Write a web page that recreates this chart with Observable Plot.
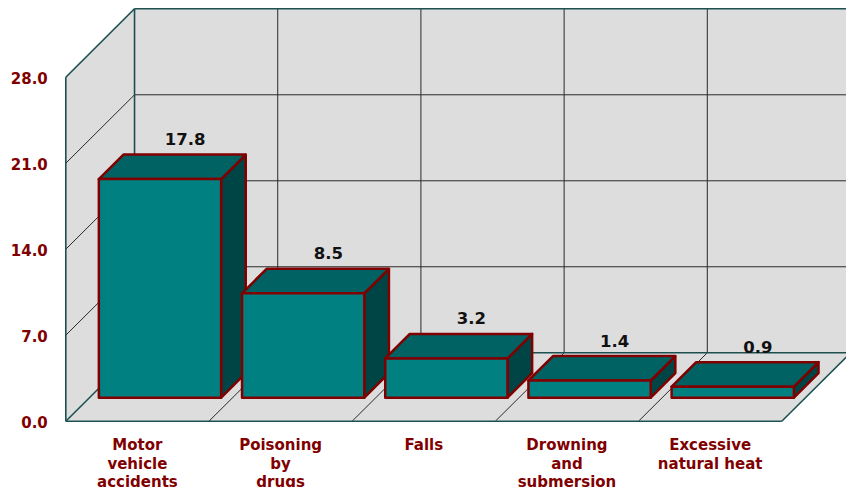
<!DOCTYPE html>
<html>
<head>
<meta charset="utf-8">
<script src="https://cdn.jsdelivr.net/npm/d3@7"></script>
<script src="https://cdn.jsdelivr.net/npm/@observablehq/plot@0.6"></script>
<style>
  html, body { margin: 0; padding: 0; background: #ffffff; overflow: hidden; }
</style>
</head>
<body>
<div id="chart"></div>
<script>
// ---- data ----
const categories = ["Motor vehicle accidents", "Poisoning by drugs", "Falls", "Drowning and submersion", "Excessive natural heat"];
const categoryLines = [["Motor", "vehicle", "accidents"], ["Poisoning", "by", "drugs"], ["Falls"], ["Drowning", "and", "submersion"], ["Excessive", "natural heat"]];
const values = [17.8, 8.5, 3.2, 1.4, 0.9];
const yTicks = [0, 7, 14, 21, 28];
const yMax = 28;

// ---- 3D frame parameters (oblique projection in data units) ----
const n = categories.length;
const kx = 0.48;   // depth shift along x, in category units
const ky = 5.57;   // depth shift along y, in value units
const z0 = 0.336, z1 = 0.694; // bar front / back depth
const gap = 0.073; // gap on each side of a bar within its category

const bars = values.map((v, i) => ({
  i, v, cat: categories[i],
  a: i + gap, b: i + 1 - gap
}));

const frontFaces = bars.map(d => ({
  i: d.i, x1: d.a + z0 * kx, x2: d.b + z0 * kx, y1: z0 * ky, y2: d.v + z0 * ky
}));
const topFaces = bars.flatMap(d => [
  {i: d.i, y: d.v + z0 * ky, x1: d.a + z0 * kx, x2: d.b + z0 * kx},
  {i: d.i, y: d.v + z1 * ky, x1: d.a + z1 * kx, x2: d.b + z1 * kx}
]);
const sideFaces = bars.flatMap(d => [
  {i: d.i, x: d.b + z0 * kx, y1: z0 * ky, y2: d.v + z0 * ky},
  {i: d.i, x: d.b + z1 * kx, y1: z1 * ky, y2: d.v + z1 * ky}
]);

// walls
const leftWall = [{x: 0, y1: 0, y2: yMax}, {x: kx, y1: ky, y2: yMax + ky}];
const floor = [{y: 0, x1: 0, x2: n}, {y: ky, x1: kx, x2: n + kx}];

// gridlines
const inner = yTicks.filter(t => t > 0 && t < yMax);
const cats = d3.range(1, n);
const grid = [
  ...inner.map(t => ({x1: kx, y1: t + ky, x2: n + kx, y2: t + ky})),
  ...inner.map(t => ({x1: 0, y1: t, x2: kx, y2: t + ky})),
  ...cats.map(c => ({x1: c + kx, y1: ky, x2: c + kx, y2: yMax + ky})),
  ...cats.map(c => ({x1: c, y1: 0, x2: c + kx, y2: ky}))
];
const edges = [
  {x1: 0, y1: 0, x2: 0, y2: yMax},
  {x1: 0, y1: yMax, x2: kx, y2: yMax + ky},
  {x1: kx, y1: ky, x2: kx, y2: yMax + ky},
  {x1: kx, y1: yMax + ky, x2: n + kx, y2: yMax + ky},
  {x1: kx, y1: ky, x2: n + kx, y2: ky},
  {x1: 0, y1: 0, x2: n, y2: 0},
  {x1: 0, y1: 0, x2: kx, y2: ky},
  {x1: n, y1: 0, x2: n + kx, y2: ky}
];

const wallFill = "#dddddd";
const edgeColor = "#1c4f4f";
const barStroke = "#800000";

const chart = Plot.plot({
  width: 846,
  height: 487,
  marginLeft: 65, marginRight: 0, marginTop: 8, marginBottom: 66,
  style: {fontFamily: "'DejaVu Sans', Verdana, sans-serif", overflow: "hidden", background: "#ffffff"},
  x: {domain: [0, n + kx], range: [65.3, 850], axis: null},
  y: {domain: [0, yMax + ky], range: [420.7, 8.3], axis: null},
  marks: [
    // walls
    Plot.rect([{}], {x1: kx, x2: n + kx, y1: ky, y2: yMax + ky, fill: wallFill}),
    Plot.areaY(leftWall, {x: "x", y1: "y1", y2: "y2", fill: wallFill}),
    Plot.areaX(floor, {y: "y", x1: "x1", x2: "x2", fill: wallFill}),
    // gridlines
    Plot.link(grid, {x1: "x1", y1: "y1", x2: "x2", y2: "y2", stroke: "#2a2a2a", strokeWidth: 1}),
    // frame edges
    Plot.link(edges, {x1: "x1", y1: "y1", x2: "x2", y2: "y2", stroke: edgeColor, strokeWidth: 1.6}),
    // bars
    Plot.areaY(sideFaces, {x: "x", y1: "y1", y2: "y2", z: "i", fill: "#004545", stroke: barStroke, strokeWidth: 2.5, strokeLinejoin: "round"}),
    Plot.areaX(topFaces, {y: "y", x1: "x1", x2: "x2", z: "i", fill: "#006262", stroke: barStroke, strokeWidth: 2.5, strokeLinejoin: "round"}),
    Plot.rect(frontFaces, {x1: "x1", x2: "x2", y1: "y1", y2: "y2", fill: "#008080", stroke: barStroke, strokeWidth: 2.5, strokeLinejoin: "round"}),
    // value labels
    Plot.text(bars, {x: d => d.i + 0.5 + z1 * kx, y: d => d.v + z1 * ky, text: d => d.v.toFixed(1), dy: -10, lineAnchor: "bottom", fontSize: 16.5, fontWeight: "bold", fill: "#111111"}),
    // y tick labels
    Plot.text(yTicks, {x: 0, y: d => d, text: d => d.toFixed(1), dx: -18, dy: 1.5, textAnchor: "end", fontSize: 15, fontWeight: "bold", fill: "#800000"}),
    // category labels
    Plot.text(bars, {x: d => d.i + 0.5, y: 0, text: d => categoryLines[d.i].join("\n"), dy: 16, lineAnchor: "top", lineHeight: 1.23, fontSize: 15, fontWeight: "bold", fill: "#800000"})
  ]
});
document.getElementById("chart").appendChild(chart);
</script>
</body>
</html>
